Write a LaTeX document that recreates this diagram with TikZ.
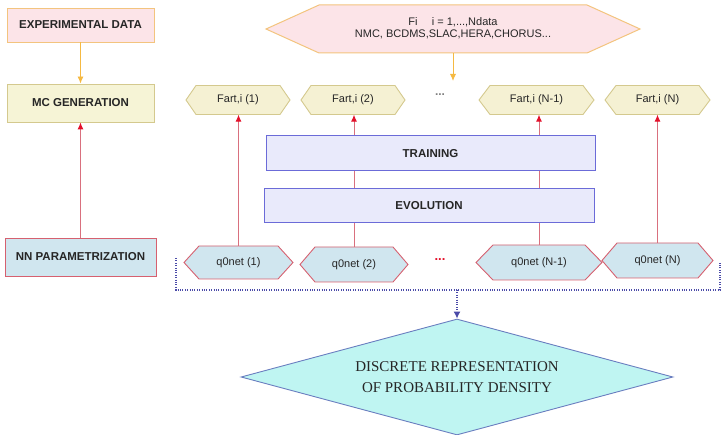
\documentclass[tikz,border=0pt]{standalone}
\usepackage{fontspec}
\setmainfont{Liberation Sans}
\newfontfamily\diamfont{Liberation Serif}
\usetikzlibrary{arrows.meta,shapes.geometric}
\definecolor{pinkfill}{HTML}{FCE4E8}
\definecolor{orangeborder}{HTML}{F3C47E}
\definecolor{orangearrow}{HTML}{F5B942}
\definecolor{yellowfill}{HTML}{F6F4D6}
\definecolor{tanborder}{HTML}{D4C98E}
\definecolor{beigefill}{HTML}{F5F1D3}
\definecolor{bluefill}{HTML}{D0E6EF}
\definecolor{redborder}{HTML}{D6606F}
\definecolor{redline}{HTML}{D9707E}
\definecolor{redhead}{HTML}{E3102A}
\definecolor{lavfill}{HTML}{E9EAFB}
\definecolor{lavborder}{HTML}{6B6BD8}
\definecolor{dotblue}{HTML}{4B4BA8}
\definecolor{cyanfill}{HTML}{BFF5F2}
\definecolor{diamborder}{HTML}{6A7EC0}
\definecolor{txt}{HTML}{262626}
\pgfdeclarelayer{bg}
\pgfsetlayers{bg,main}
\newcommand\hexbox[7]{%
  \begin{pgfonlayer}{bg}
  \path[#1] #3 ++(-#4/2,0) -- ++(#6,-#5/2) -- ++(#4-2*#6,0) -- ++(#6,#5/2) -- ++(-#6,#5/2) -- ++(-#4+2*#6,0) -- cycle;
  \end{pgfonlayer}
  \node[hexlabel, minimum width=#4pt, minimum height=#5pt] (#2) at #3 {#7};
}
\tikzset{
  box/.style={rectangle, inner sep=0pt, line width=0.9pt, text=txt,
    font=\fontsize{11.5}{13}\selectfont\bfseries},
  hexlabel/.style={rectangle, inner sep=0pt, text=txt,
    font=\fontsize{11}{13}\selectfont},
  fartstyle/.style={fill=beigefill, draw=tanborder, line width=0.9pt},
  qstyle/.style={fill=bluefill, draw=redborder, line width=0.9pt},
  tophexstyle/.style={fill=pinkfill, draw=orangeborder, line width=1pt},
  orarrow/.style={draw=orangearrow, line width=0.9pt, -{Latex[length=7pt,width=6pt]}},
  redarrow/.style={draw=redline, line width=0.9pt, -{Latex[length=7pt,width=6pt,color=redhead]}},
  dotline/.style={draw=dotblue, line width=1.2pt, dash pattern=on 1pt off 1.4pt},
  bandbox/.style={rectangle, inner sep=0pt, fill=lavfill, draw=lavborder, line width=1pt,
    text=txt, font=\fontsize{11.5}{13}\selectfont\bfseries},
}
\begin{document}
\begin{tikzpicture}[x=1pt,y=-1pt]
\useasboundingbox (0,0) rectangle (722,435);

% left column
\node[box, fill=pinkfill, draw=orangeborder, minimum width=147pt, minimum height=34pt] (exp) at (80.5,25) {EXPERIMENTAL DATA};
\node[box, fill=yellowfill, draw=tanborder, minimum width=147pt, minimum height=38pt] (mc) at (80.5,103) {MC GENERATION};
\node[box, fill=bluefill, draw=redborder, minimum width=151pt, minimum height=38pt] (nn) at (80.5,257) {NN PARAMETRIZATION};
\draw[orarrow] (exp) -- (mc);
\draw[redarrow] (nn) -- (mc);

% top hexagon
\hexbox{tophexstyle}{fi}{(453,29)}{374}{48}{53}{\begin{tabular}{@{}c@{}}Fi\hspace{1.3em}i = 1,...,Ndata\\[-1pt] NMC, BCDMS,SLAC,HERA,CHORUS...\end{tabular}}
\coordinate (fiend) at (453,81);
\draw[orarrow] (fi) -- (fiend);

% Fart row
\hexbox{fartstyle}{f1}{(238,100)}{104}{29}{10}{Fart,i (1)}
\hexbox{fartstyle}{f2}{(353,100)}{104}{29}{10}{Fart,i (2)}
\hexbox{fartstyle}{fn1}{(536.5,100)}{115}{29}{11}{Fart,i (N-1)}
\hexbox{fartstyle}{fn}{(657.5,100)}{105}{29}{11}{Fart,i (N)}
\node[text=gray, font=\fontsize{12}{12}\selectfont\bfseries] (fdots) at (440,95) {...};

% q0net row
\hexbox{qstyle}{q1}{(238.5,262.5)}{109}{33}{15}{q0net (1)}
\hexbox{qstyle}{q2}{(354,264.5)}{108}{35}{15}{q0net (2)}
\hexbox{qstyle}{qn1}{(539,262.5)}{126}{35}{17}{q0net (N-1)}
\hexbox{qstyle}{qn}{(657.5,260.5)}{111}{35}{15}{q0net (N)}
\node[text=redhead, font=\fontsize{13}{13}\selectfont\bfseries] (qdots) at (440,260) {...};

% vertical red arrows (behind the bands)
\draw[redarrow] (q1.north) -- (q1.north |- f1.south);
\draw[redarrow] (q2.north) -- (q2.north |- f2.south);
\draw[redarrow] (qn1.north) -- (qn1.north |- fn1.south);
\draw[redarrow] (qn.north) -- (qn.north |- fn.south);

% bands
\node[bandbox, minimum width=329pt, minimum height=35pt] (train) at (430.5,153.5) {TRAINING};
\node[bandbox, minimum width=330pt, minimum height=34pt] (evol) at (429,206) {EVOLUTION};

% dotted bracket
\coordinate (dl) at (176,258);
\coordinate (dr) at (720,262);
\coordinate (dmid) at (457,290);
\draw[dotline] (dl) -- (dl |- dmid) -- (dr |- dmid) -- (dr);

% diamond
\node[diamond, aspect=3.72, minimum width=432pt, minimum height=116pt, inner sep=0pt,
      fill=cyanfill, draw=diamborder, line width=0.9pt, text=txt, align=center,
      font=\diamfont\fontsize{15}{21}\selectfont] (dens) at (457,377)
      {DISCRETE REPRESENTATION\\OF PROBABILITY DENSITY};
\draw[dotline, -{Latex[length=7pt,width=7pt,color=dotblue]}] (dmid) -- (dens.north);
\end{tikzpicture}
\end{document}
